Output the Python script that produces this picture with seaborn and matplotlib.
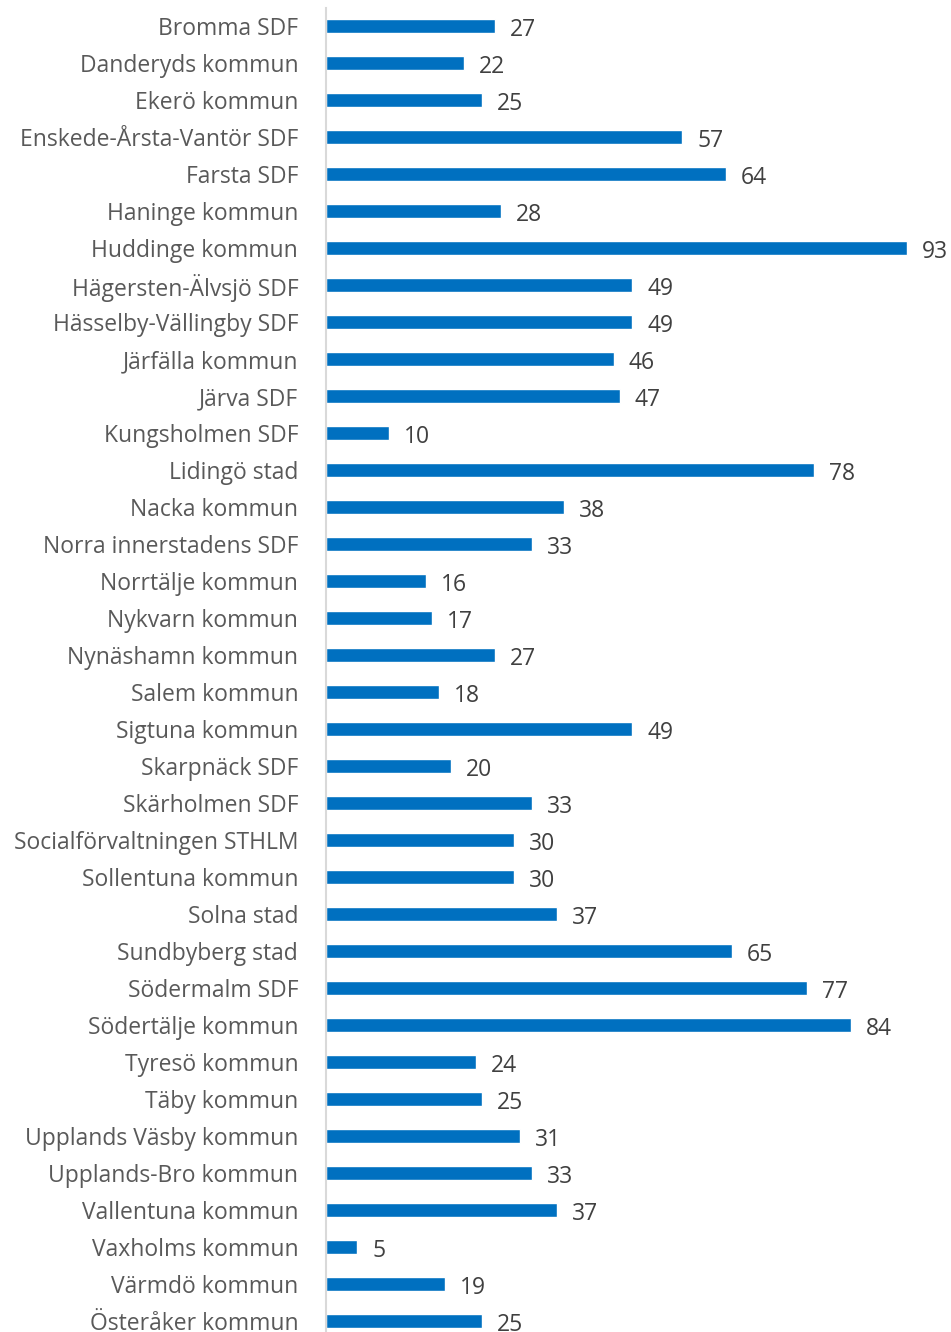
import matplotlib
matplotlib.use("Agg")
import matplotlib.pyplot as plt
import seaborn as sns
import pandas as pd

categories = [
    "Bromma SDF", "Danderyds kommun", "Ekerö kommun", "Enskede-Årsta-Vantör SDF",
    "Farsta SDF", "Haninge kommun", "Huddinge kommun", "Hägersten-Älvsjö SDF",
    "Hässelby-Vällingby SDF", "Järfälla kommun", "Järva SDF", "Kungsholmen SDF",
    "Lidingö stad", "Nacka kommun", "Norra innerstadens SDF", "Norrtälje kommun",
    "Nykvarn kommun", "Nynäshamn kommun", "Salem kommun", "Sigtuna kommun",
    "Skarpnäck SDF", "Skärholmen SDF", "Socialförvaltningen STHLM",
    "Sollentuna kommun", "Solna stad", "Sundbyberg stad", "Södermalm SDF",
    "Södertälje kommun", "Tyresö kommun", "Täby kommun", "Upplands Väsby kommun",
    "Upplands-Bro kommun", "Vallentuna kommun", "Vaxholms kommun",
    "Värmdö kommun", "Österåker kommun",
]
values = [27, 22, 25, 57, 64, 28, 93, 49, 49, 46, 47, 10, 78, 38, 33, 16, 17,
          27, 18, 49, 20, 33, 30, 30, 37, 65, 77, 84, 24, 25, 31, 33, 37, 5,
          19, 25]

df = pd.DataFrame({"enhet": categories, "antal": values})

sns.set_style("white")
plt.rcParams["font.family"] = ["Open Sans", "DejaVu Sans"]

W, H = 951, 1332
fig = plt.figure(figsize=(W / 100, H / 100), dpi=100)
ax = fig.add_axes([326 / W, 0, 625 / W, (H - 7.5) / H])

sns.barplot(data=df, x="antal", y="enhet", orient="h", color="#0070C0",
            width=0.39, saturation=1, ax=ax)

ax.set_xlim(0, 100)
ax.set_ylim(-0.5 + (H - 7.5) / 37, -0.5)

for i, v in enumerate(values):
    ax.text(v + 2.4, i + 0.04, str(v), va="center_baseline", ha="left",
            fontsize=16.5, color="#404040", clip_on=False)

ax.set_xlabel("")
ax.set_ylabel("")
ax.set_xticks([])
ax.tick_params(axis="y", length=0, pad=20, labelsize=16.5, labelcolor="#595959")
for s in ["top", "right", "bottom"]:
    ax.spines[s].set_visible(False)
ax.spines["left"].set_color("#D9D9D9")
ax.spines["left"].set_linewidth(1.5)

fig.savefig("out.png", dpi=100)
